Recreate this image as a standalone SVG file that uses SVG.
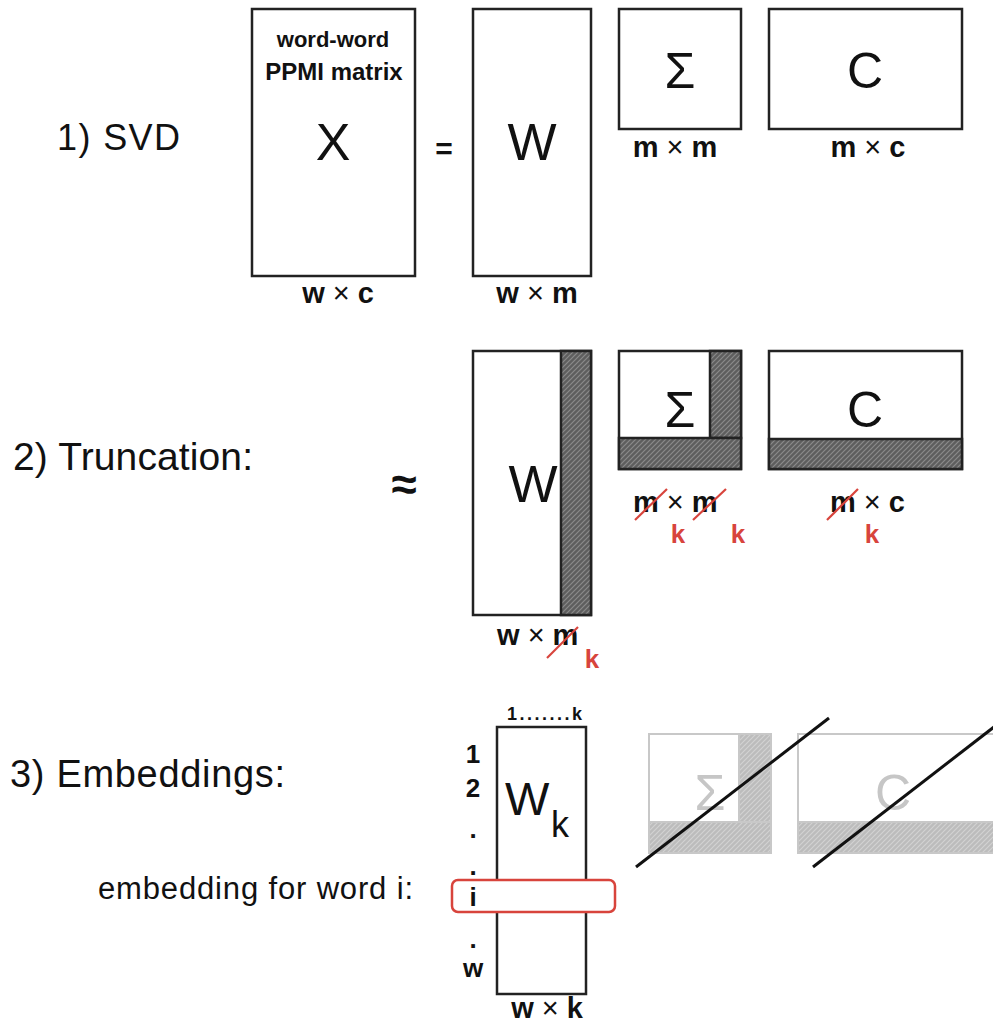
<svg xmlns="http://www.w3.org/2000/svg" width="993" height="1026" viewBox="0 0 993 1026">
<defs>
<pattern id="hatchDark" patternUnits="userSpaceOnUse" width="5" height="5">
<rect width="5" height="5" fill="#5e5e5e"/>
<path d="M-1,6 L6,-1 M-1,1 L1,-1 M4,6 L6,4" stroke="#8a8a8a" stroke-width="1.2"/>
</pattern>
<pattern id="hatchLight" patternUnits="userSpaceOnUse" width="5" height="5">
<rect width="5" height="5" fill="#bcbcbc"/>
<path d="M-1,6 L6,-1 M-1,1 L1,-1 M4,6 L6,4" stroke="#d2d2d2" stroke-width="1.2"/>
</pattern>
</defs>
<style>
.box{fill:#fff;stroke:#222;stroke-width:2.5}
.hd{fill:url(#hatchDark);stroke:#222;stroke-width:2.5}
.gbox{fill:#fff;stroke:#c8c8c8;stroke-width:2}
.hl{fill:url(#hatchLight);stroke:#c8c8c8;stroke-width:2}
text{font-family:"Liberation Sans",Arial,sans-serif;fill:#111}
.big{font-size:52px}
.head{font-size:39px}
.dim{font-size:29px;font-weight:bold}
.dim tspan.x{font-weight:normal}
.red{fill:#d8443c;font-size:26px;font-weight:bold}
.slash{stroke:#d8443c;stroke-width:2.2;fill:none}
.gtxt{fill:#c6c6c6;font-size:50px}
.row{font-size:26px;font-weight:bold;text-anchor:middle}
.cross{stroke:#111;stroke-width:3;fill:none}
</style>

<g id="labels">
<text x="57" y="150" font-size="36" textLength="123">1) SVD</text>
<text x="13" y="470" class="head" textLength="240">2) Truncation:</text>
<text x="10" y="787" font-size="38" textLength="275">3) Embeddings:</text>
<text x="98" y="899" font-size="31" textLength="315">embedding for word i:</text>
</g>

<g id="X">
<rect class="box" x="252" y="9" width="163" height="267"/>
<text x="333" y="47" font-size="22" font-weight="bold" text-anchor="middle">word-word</text>
<text x="334" y="80" font-size="24" font-weight="bold" text-anchor="middle">PPMI matrix</text>
<text x="333" y="160" class="big" text-anchor="middle">X</text>
<text x="338" y="303" class="dim" text-anchor="middle">w <tspan class="x">×</tspan> c</text>
</g>

<g id="equals">
<text x="444" y="159" font-size="30" font-weight="bold" text-anchor="middle">=</text>
</g>

<g id="W1">
<rect class="box" x="473" y="9" width="118" height="267"/>
<text x="532" y="160" class="big" text-anchor="middle">W</text>
<text x="537" y="303" class="dim" text-anchor="middle">w <tspan class="x">×</tspan> m</text>
</g>

<g id="Sigma1">
<rect class="box" x="619" y="9" width="122" height="120"/>
<text x="680" y="88" font-size="50" text-anchor="middle">Σ</text>
<text x="675" y="157" class="dim" text-anchor="middle">m <tspan class="x">×</tspan> m</text>
</g>

<g id="C1">
<rect class="box" x="769" y="9" width="193" height="120"/>
<text x="865" y="88" font-size="50" text-anchor="middle">C</text>
<text x="868" y="157" class="dim" text-anchor="middle">m <tspan class="x">×</tspan> c</text>
</g>

<g id="approx">
<text x="404" y="500" font-size="46" font-weight="bold" text-anchor="middle">≈</text>
</g>

<g id="W2">
<rect class="box" x="473" y="351" width="118" height="264"/>
<rect class="hd" x="561" y="351" width="30" height="264"/>
<text x="533" y="502" class="big" text-anchor="middle">W</text>
<text x="497" y="645" class="dim">w <tspan class="x">×</tspan> m</text>
<line class="slash" x1="547" y1="658" x2="578" y2="627"/>
<text x="592" y="668" class="red" text-anchor="middle">k</text>
</g>

<g id="Sigma2">
<rect class="box" x="619" y="351" width="122" height="118"/>
<rect class="hd" x="710" y="351" width="31" height="87"/>
<rect class="hd" x="619" y="438" width="122" height="31"/>
<text x="680" y="427" font-size="50" text-anchor="middle">Σ</text>
<text x="633" y="512" class="dim">m <tspan class="x">×</tspan> m</text>
<line class="slash" x1="635" y1="520" x2="667" y2="489"/>
<line class="slash" x1="693" y1="520" x2="726" y2="489"/>
<text x="678" y="543" class="red" text-anchor="middle">k</text>
<text x="738" y="543" class="red" text-anchor="middle">k</text>
</g>

<g id="C2">
<rect class="box" x="769" y="351" width="193" height="118"/>
<rect class="hd" x="769" y="439" width="193" height="30"/>
<text x="865" y="427" font-size="50" text-anchor="middle">C</text>
<text x="830" y="512" class="dim">m <tspan class="x">×</tspan> c</text>
<line class="slash" x1="827" y1="520" x2="858" y2="489"/>
<text x="872" y="543" class="red" text-anchor="middle">k</text>
</g>

<g id="Wk">
<text x="507" y="720" font-size="18" font-weight="bold" textLength="75">1.......k</text>
<rect class="box" x="497" y="727" width="89" height="267"/>
<text x="505" y="815" font-size="47">W</text>
<text x="551" y="837" font-size="36">k</text>
<text x="473" y="763" class="row">1</text>
<text x="473" y="797" class="row">2</text>
<text x="473" y="838" class="row">.</text>
<text x="473" y="875" class="row">.</text>
<text x="473" y="948" class="row">.</text>
<text x="473" y="977" class="row">w</text>
<text x="547" y="1018" class="dim" text-anchor="middle">w <tspan class="x">×</tspan> k</text>
</g>

<g id="selected-row">
<rect x="452" y="880" width="163" height="32" rx="6" fill="#fff" stroke="#d8443c" stroke-width="2.5"/>
<text x="473" y="906" class="row">i</text>
</g>

<g id="Sigma3">
<rect class="gbox" x="649" y="734" width="122" height="119"/>
<rect class="hl" x="739" y="734" width="32" height="88"/>
<rect class="hl" x="649" y="822" width="122" height="31"/>
<text x="710" y="810" class="gtxt" text-anchor="middle">Σ</text>
</g>

<g id="C3">
<rect class="gbox" x="798" y="734" width="200" height="119"/>
<rect class="hl" x="798" y="822" width="200" height="31"/>
<text x="893" y="810" class="gtxt" text-anchor="middle">C</text>
</g>

<g id="connectors">
<line class="cross" x1="636" y1="867" x2="829" y2="718"/>
<line class="cross" x1="813" y1="867" x2="1003" y2="720"/>
</g>
</svg>
